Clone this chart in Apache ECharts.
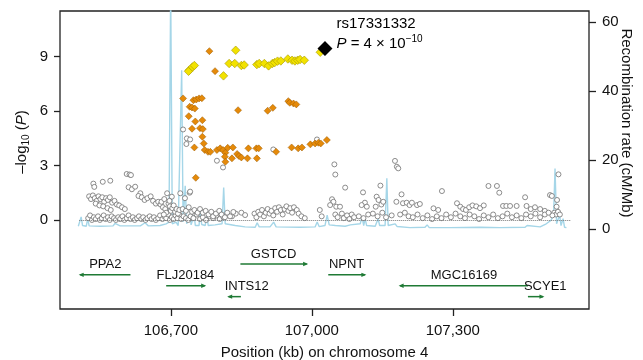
<!DOCTYPE html>
<html>
<head>
<meta charset="utf-8">
<script src="https://cdn.jsdelivr.net/npm/echarts@6/dist/echarts.min.js"></script>
<style>
  html, body { margin: 0; padding: 0; background: #fff; }
  #chart { width: 643px; height: 360px; }
</style>
</head>
<body>
<div id="chart"></div>
<script>
// tick labels
const xTicks = [106700, 107000, 107300];
const pTicks = [0, 3, 6, 9];
const rateTicks = [0, 20, 40, 60];

// recombination rate (cM/Mb) along the region
const recombKb = [106503, 106509, 106512, 106520, 106523, 106526, 106550, 106577, 106581, 106592,
  106635, 106645, 106652, 106677, 106690, 106696, 106699.6, 106703, 106711, 106715.6,
  106723, 106726, 106730.5, 106733.7, 106741, 106743, 106749.6, 106752, 106760, 106762.4,
  106765.6, 106773, 106777, 106779.4, 106794, 106809, 106812.4, 106815.6, 106837, 106858,
  106879.5, 106883.7, 106888, 106911, 106918.8, 106924, 106975, 107007, 107011.4, 107015.6,
  107028, 107032.7, 107037, 107050, 107071, 107082, 107103, 107107, 107110.4, 107113.5,
  107116.7, 107135, 107141, 107144.4, 107156, 107159.7, 107162.5, 107177.4, 107181.7, 107209,
  107241, 107245.5, 107250, 107294, 107358, 107401, 107454, 107458.3, 107462.5, 107486,
  107499, 107509, 107514.6, 107517.7, 107521, 107524.2, 107527.4, 107530.5, 107534.8, 107538,
  107542];
const recombRate = [0.8, 3.5, 1.0, 0.8, 3.0, 0.9, 0.8, 0.9, 1.6, 0.9,
  0.9, 1.8, 0.9, 1.0, 1.5, 2.0, 70, 1.5, 2.0, 1.0,
  46, 2.0, 12.5, 1.5, 4.5, 1.2, 4.0, 1.0, 1.0, 5.5,
  1.3, 1.0, 4.0, 1.0, 1.2, 1.5, 12, 1.5, 1.0, 0.6,
  0.5, 1.8, 0.6, 0.6, 2.0, 0.6, 0.5, 0.6, 2.0, 0.7,
  1.0, 4.0, 1.2, 1.0, 0.8, 1.2, 1.5, 3.5, 1.0, 3.0,
  1.0, 0.8, 3.0, 1.0, 1.0, 14.7, 1.0, 1.5, 0.7, 0.4,
  0.5, 1.2, 0.4, 0.4, 0.5, 0.4, 0.5, 1.0, 0.5, 0.6,
  1.5, 2.5, 4.0, 17.5, 1.5, 1.0, 4.0, 1.0, 3.0, 0.5,
  0.4];

// SNPs: [position kb, -log10 P], grouped by LD with the lead SNP
const snpLow = [
  [106524, 0.1], [106528, 0.25], [106532, 0.0], [106536, 0.15], [106540, 0.05], [106545, 0.2],
  [106549, 0.0], [106553, 0.1], [106557, 0.25], [106561, 0.05], [106566, 0.15], [106570, 0.0],
  [106574, 0.2], [106579, 0.1], [106583, 0.0], [106588, 0.15], [106592, 0.05], [106597, 0.2],
  [106601, 0.0], [106606, 0.1], [106610, 0.25], [106614, 0.05], [106619, 0.15], [106623, 0.0],
  [106628, 0.1], [106632, 0.2], [106637, 0.05], [106641, 0.15], [106646, 0.0], [106650, 0.1],
  [106655, 0.2], [106659, 0.05], [106664, 0.15], [106668, 0.0], [106673, 0.1], [106677, 0.25],
  [106682, 0.05], [106686, 0.2], [106690, 0.1], [106694, 0.3], [106698, 0.0], [106702, 0.15],
  [106706, 0.05], [106710, 0.25], [106714, 0.1], [106718, 0.3], [106722, 0.05], [106727, 0.2],
  [106732, 0.1], [106737, 0.0], [106742, 0.2], [106748, 0.1], [106755, 0.3], [106762, 0.05],
  [106768, 0.15], [106775, 0.0], [106782, 0.2], [106790, 0.1], [106797, 0.25], [106804, 0.05],
  [106812, 0.15], [106820, 0.3], [106830, 0.2], [106838, 0.35],
  [106526, 1.3], [106530, 1.15], [106534, 1.35], [106538, 1.2], [106542, 1.05], [106546, 1.3],
  [106550, 1.15], [106554, 1.25], [106558, 1.0], [106562, 1.2], [106566, 1.1], [106570, 1.25],
  [106575, 0.95], [106580, 1.05], [106585, 0.85], [106590, 0.8], [106596, 0.7], [106602, 0.6],
  [106540, 0.9], [106548, 0.8], [106556, 0.75], [106565, 0.65], [106572, 0.55],
  [106535, 2.0], [106537, 1.82], [106555, 2.1], [106571, 2.16], [106606, 2.53], [106612, 2.5],
  [106615, 2.47], [106610, 1.8], [106617, 1.69], [106624, 1.83], [106635, 1.47], [106631, 1.32],
  [106638, 1.25], [106644, 1.1], [106650, 1.2], [106657, 1.3], [106662, 1.05], [106668, 0.9],
  [106673, 1.0], [106678, 0.85], [106683, 0.7], [106688, 0.6], [106692, 1.47], [106702, 1.28],
  [106720, 1.47], [106740, 1.5], [106741, 1.56], [106730, 1.2], [106695, 0.9], [106698, 0.75],
  [106700, 0.5], [106703, 0.65], [106706, 0.8], [106709, 0.45], [106712, 0.6], [106715, 0.35],
  [106718, 0.55], [106690, 0.4], [106685, 0.3], [106725, 0.6], [106732, 0.5], [106738, 0.7],
  [106745, 0.45], [106750, 0.55], [106757, 0.4], [106680, 1.0], [106686, 1.15], [106697, 1.05],
  [106762, 0.6], [106768, 0.4], [106774, 0.5], [106780, 0.3], [106786, 0.45], [106790, 0.2],
  [106796, 0.35], [106803, 0.5], [106808, 0.3], [106815, 0.15], [106820, 0.4], [106826, 0.2],
  [106833, 0.44], [106850, 0.4], [106858, 0.27],
  [106878, 0.35], [106882, 0.15], [106886, 0.45], [106890, 0.3], [106894, 0.55], [106898, 0.2],
  [106902, 0.4], [106906, 0.6], [106910, 0.35], [106914, 0.5], [106918, 0.25], [106922, 0.65],
  [106926, 0.45], [106930, 0.7], [106934, 0.55], [106938, 0.3], [106942, 0.6], [106946, 0.75],
  [106950, 0.5], [106954, 0.65], [106958, 0.4], [106962, 0.7], [106968, 0.55], [106972, 0.35],
  [106978, 0.2], [106985, 0.1], [107017, 0.55], [107021, 0.2],
  [107043, 1.14], [107046, 1.0], [107039, 0.82], [107052, 0.73], [107060, 0.73], [107071, 1.78],
  [107050, 0.3], [107055, 0.15], [107064, 0.35], [107068, 0.1], [107075, 0.25], [107080, 0.05],
  [107085, 0.3], [107090, 0.15], [107109, 1.52], [107113, 0.95], [107106, 0.82], [107117, 0.73],
  [107100, 0.2], [107110, 0.1], [107120, 0.3], [107146, 1.89], [107138, 1.28], [107142, 1.1],
  [107136, 0.73], [107148, 0.85], [107152, 1.0], [107130, 0.35], [107140, 0.2], [107150, 0.4],
  [107158, 0.15], [107191, 1.41], [107180, 1.0], [107194, 0.92], [107202, 0.95], [107170, 0.25],
  [107188, 0.3], [107198, 0.4], [107206, 0.2],
  [107208, 0.82], [107213, 0.95], [107224, 0.82], [107230, 0.88], [107277, 1.59], [107259, 0.64],
  [107269, 0.55], [107309, 0.92], [107316, 0.73], [107322, 0.6], [107328, 0.55], [107335, 0.7],
  [107342, 0.8], [107350, 0.75], [107358, 0.65], [107366, 0.8], [107376, 1.87], [107394, 1.87],
  [107399, 1.5], [107407, 0.77], [107414, 0.77], [107422, 0.77], [107436, 0.77], [107454, 1.25],
  [107457, 0.77], [107466, 0.6], [107475, 0.7], [107486, 0.6], [107496, 0.5], [107507, 1.37],
  [107511, 1.32], [107522, 1.1], [107521, 0.73], [107525, 2.51], [107516, 0.4], [107520, 0.3],
  [107524, 0.45], [107528, 0.3], [107512, 0.25],
  [107215, 0.15], [107225, 0.3], [107236, 0.1], [107246, 0.25], [107256, 0.05], [107266, 0.2],
  [107276, 0.1], [107286, 0.3], [107296, 0.15], [107306, 0.35], [107316, 0.2], [107326, 0.1],
  [107336, 0.3], [107346, 0.2], [107356, 0.05], [107366, 0.25], [107376, 0.15], [107386, 0.3],
  [107396, 0.1], [107406, 0.2], [107416, 0.35], [107426, 0.15], [107436, 0.25], [107446, 0.1],
  [107456, 0.3], [107466, 0.2], [107476, 0.35], [107486, 0.15], [107496, 0.3], [107504, 0.4],
  [106726, 4.98], [106734, 4.49], [106741, 4.43], [106733, 4.18], [106798, 3.26], [106811, 2.89],
  [106918, 3.88], [107011, 4.43], [107048, 3.06], [107050, 2.5], [107177, 3.25], [107181, 2.93],
  [107184, 2.84]
];
const snpMid = [
  [106726, 6.69], [106748, 6.59], [106754, 6.63], [106760, 6.69], [106766, 6.7], [106740, 6.23],
  [106745, 6.19], [106751, 6.13], [106738, 5.71], [106752, 5.42], [106767, 5.49], [106745, 5.02],
  [106762, 5.05], [106768, 5.0], [106767, 4.58], [106770, 4.21], [106750, 3.99], [106772, 3.85],
  [106779, 3.75], [106784, 3.75], [106798, 3.85], [106805, 3.94], [106811, 3.85], [106816, 3.7],
  [106821, 3.97], [106832, 3.99], [106815, 3.48], [106830, 3.39], [106841, 3.63], [106845, 3.52],
  [106850, 3.44], [106863, 3.39], [106865, 3.94], [106882, 3.94], [106887, 3.94], [106883, 3.39],
  [106816, 3.2], [106843, 6.04], [106906, 6.01], [106917, 6.17], [106950, 6.54], [106953, 6.45],
  [106961, 6.41], [106967, 6.36], [106924, 3.75], [106957, 3.99], [106971, 3.94], [106979, 3.99],
  [106997, 4.16], [107007, 4.21], [107014, 4.25], [107019, 4.21], [107032, 4.4], [106782, 9.29],
  [106794, 8.19], [106753, 2.32]
];
const snpHigh = [
  [106739, 8.24], [106737.5, 8.18], [106746, 8.42], [106750, 8.5], [106838, 9.34], [106812, 7.93],
  [106824, 8.61], [106836, 8.61], [106850, 8.5], [106856, 8.53], [106883, 8.55], [106888, 8.61],
  [106899, 8.61], [106908, 8.48], [106916, 8.61], [106921, 8.66], [106927, 8.74], [106934, 8.75],
  [106949, 8.86], [106958, 8.79], [106964, 8.75], [106970, 8.79], [106975, 8.83], [106984, 8.79],
  [107018, 9.23]
];
const leadSnp = [[107028, 9.43]];
const leadName = 'rs17331332';

// genes in the region
const geneNames = ['PPA2', 'FLJ20184', 'INTS12', 'GSTCD', 'NPNT', 'MGC16169', 'SCYE1'];
const geneStart = [106507, 106690, 106823, 106848, 107035, 107188, 107460];
const geneEnd = [106614, 106772, 106849, 106989, 107113, 107460, 107492];
const geneStrand = [-1, 1, -1, 1, 1, -1, 1];
const geneRow = [1, 2, 3, 0, 1, 2, 3];

const FONT = "'Liberation Sans', Arial, sans-serif";
const chart = echarts.init(document.getElementById('chart'));

const geneData = geneNames.map((n, i) => [geneStart[i], geneEnd[i], geneRow[i], geneStrand[i], i]);

function renderGene(params, api) {
  const rowY = -2.42 - 0.6 * api.value(2);
  const s = api.coord([api.value(0), rowY]);
  const e = api.coord([api.value(1), rowY]);
  const strand = api.value(3);
  const name = geneNames[api.value(4)];
  const tip = strand > 0 ? e : s;
  const dir = strand > 0 ? 1 : -1;
  const short = e[0] - s[0] < 20;
  return {
    type: 'group',
    children: [
      { type: 'line', shape: { x1: s[0], y1: s[1], x2: e[0], y2: e[1] },
        style: { stroke: '#1f7a35', lineWidth: 1.5 } },
      { type: 'polygon', shape: { points: [[tip[0] + dir * 1.5, tip[1]], [tip[0] - dir * 3.5, tip[1] - 2.2], [tip[0] - dir * 3.5, tip[1] + 2.2]] },
        style: { fill: '#1f7a35' } },
      { type: 'text', x: short ? s[0] - 4 : (s[0] + e[0]) / 2, y: s[1] - 10,
        style: { text: name, fill: '#111', font: '13px ' + FONT, align: short ? 'left' : 'center', verticalAlign: 'middle' } }
    ]
  };
}

const option = {
  animation: false,
  grid: { left: 60, top: 11, right: 54, bottom: 51, outerBoundsMode: 'none', show: true,
    borderColor: '#222', borderWidth: 1.3, backgroundColor: 'transparent' },
  xAxis: {
    type: 'value', min: 106464, max: 107590,
    axisLine: { show: false, onZero: false },
    axisTick: { show: true, length: 7, customValues: xTicks, lineStyle: { color: '#222', width: 1.3 } },
    axisLabel: { customValues: xTicks, margin: 14, color: '#111', fontSize: 15, fontFamily: FONT,
      formatter: v => v.toLocaleString('en-US') },
    splitLine: { show: false },
    name: 'Position (kb) on chromosome 4', nameLocation: 'middle', nameGap: 36,
    nameTextStyle: { color: '#111', fontSize: 15, fontFamily: FONT }
  },
  yAxis: [
    {
      type: 'value', min: -4.9, max: 11.5, position: 'left',
      axisLine: { show: false, onZero: false },
      axisTick: { show: true, length: 6, customValues: pTicks, lineStyle: { color: '#222', width: 1.3 } },
      axisLabel: { customValues: pTicks, margin: 12, color: '#111', fontSize: 15, fontFamily: FONT },
      splitLine: { show: false }
    },
    {
      type: 'value', min: -23.2, max: 63.2, position: 'right',
      axisLine: { show: false, onZero: false },
      axisTick: { show: true, length: 7, customValues: rateTicks, lineStyle: { color: '#222', width: 1.3 } },
      axisLabel: { customValues: rateTicks, margin: 13, color: '#111', fontSize: 15, fontFamily: FONT },
      splitLine: { show: false }
    }
  ],
  graphic: [
    { type: 'text', x: 22, y: 142, rotation: Math.PI / 2,
      style: { text: '\u2013log{sub|10} ({i|P})', fill: '#111', font: '15px ' + FONT, align: 'center', verticalAlign: 'middle',
        rich: { sub: { fontSize: 10, fontFamily: FONT, padding: [9, 0, 0, 0] }, i: { fontSize: 15, fontStyle: 'italic', fontFamily: FONT } } } },
    { type: 'text', x: 626, y: 123, rotation: -Math.PI / 2,
      style: { text: 'Recombination rate (cM/Mb)', fill: '#111', font: '15px ' + FONT, align: 'center', verticalAlign: 'middle' } }
  ],
  series: [
    {
      type: 'line', yAxisIndex: 1, z: 1, symbol: 'none', silent: true,
      data: recombKb.map((k, i) => [k, recombRate[i]]),
      lineStyle: { color: '#a5d6e8', width: 1.4 }
    },
    {
      type: 'scatter', z: 2, symbol: 'circle', symbolSize: 5, data: snpLow,
      itemStyle: { color: '#fff', borderColor: '#707070', borderWidth: 0.8, opacity: 1 },
      markLine: { silent: true, symbol: 'none', label: { show: false },
        lineStyle: { color: '#777', type: 'dotted', width: 1 },
        data: [[{ coord: [106505, 0] }, { coord: [107552, 0] }]] }
    },
    {
      type: 'scatter', z: 3, symbol: 'diamond', symbolSize: 7, data: snpMid,
      itemStyle: { color: '#e58a0a', borderColor: '#9a5a00', borderWidth: 0.5, opacity: 1 }
    },
    {
      type: 'scatter', z: 4, symbol: 'diamond', symbolSize: 8.5, data: snpHigh,
      itemStyle: { color: '#f2e200', borderColor: '#a69800', borderWidth: 0.6, opacity: 1 }
    },
    {
      type: 'scatter', z: 5, symbol: 'diamond', symbolSize: 15, data: leadSnp,
      itemStyle: { color: '#000', opacity: 1 },
      label: { show: true, position: 'right', distance: 4, offset: [0, -15], color: '#000',
        fontSize: 15, fontFamily: FONT, lineHeight: 20,
        formatter: leadName + '\n{i|P} = 4 \u00d7 10{sup|\u221210}',
        rich: { i: { fontSize: 15, fontStyle: 'italic', fontFamily: FONT, lineHeight: 20, color: '#000' },
          sup: { fontSize: 10, fontFamily: FONT, padding: [0, 0, 9, 0], lineHeight: 20, color: '#000' } } }
    },
    {
      type: 'custom', z: 3, renderItem: renderGene, data: geneData,
      encode: { x: [0, 1] }, silent: true
    }
  ]
};

chart.setOption(option);
</script>
</body>
</html>
